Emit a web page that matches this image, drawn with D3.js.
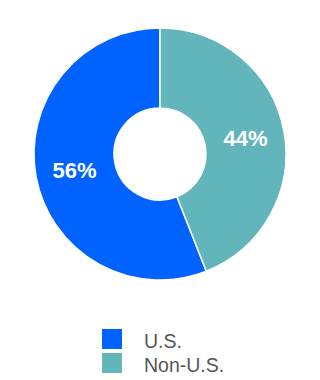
<!DOCTYPE html>
<html>
<head>
<meta charset="utf-8">
<script src="https://cdn.jsdelivr.net/npm/d3@7"></script>
<style>
	body { margin: 0; background: #fff; }
	svg { display: block; font-family: "Liberation Sans", Arial, sans-serif; }
</style>
</head>
<body>
<svg width="320" height="380"></svg>
<script>
const CATEGORIES = ["U.S.", "Non-U.S."];
const VALUES = [56, 44];
const COLORS = ["#0062ff", "#62b5bb"];

const CENTER = { x: 160, y: 154 };
const OUTER_R = 126;
const INNER_R = 46;
const LABEL_R = 87;

const svg = d3.select("svg");
const color = d3.scaleOrdinal().domain(CATEGORIES).range(COLORS);

let data = CATEGORIES.map((c, i) => ({ key: c, value: VALUES[i] }));

// Non-U.S. starts at 12 o'clock and runs clockwise, U.S. fills the rest
let offset = 2 * Math.PI * VALUES[0] / d3.sum(VALUES);
let pie = d3.pie()
	.sort(null)
	.value((d) => d.value)
	.startAngle(-offset)
	.endAngle(2 * Math.PI - offset);

let arc = d3.arc().innerRadius(INNER_R).outerRadius(OUTER_R);
let labelArc = d3.arc().innerRadius(LABEL_R).outerRadius(LABEL_R);

let g = svg.append("g").attr("transform", "translate(" + CENTER.x + "," + CENTER.y + ")");

let slices = g.selectAll("g.slice")
	.data(pie(data))
	.enter().append("g")
	.attr("class", "slice");

slices.append("path")
	.attr("d", arc)
	.attr("fill", (d) => color(d.data.key))
	.attr("stroke", "#fff")
	.attr("stroke-width", 1.5)
	.attr("stroke-linejoin", "round");

slices.append("text")
	.attr("transform", (d) => "translate(" + labelArc.centroid(d) + ")")
	.attr("text-anchor", "middle")
	.attr("dy", "0.36em")
	.attr("fill", "#fff")
	.attr("font-size", 22)
	.attr("font-weight", "bold")
	.text((d) => d.data.value + "%");

// legend
let legend = svg.append("g")
	.attr("transform", "translate(102,329)")
	.selectAll("g")
	.data(CATEGORIES)
	.enter().append("g")
	.attr("transform", (d, i) => "translate(0," + i * 24 + ")");

legend.append("rect")
	.attr("width", 20)
	.attr("height", 20)
	.attr("fill", color);

legend.append("text")
	.attr("x", 42)
	.attr("y", 19)
	.attr("fill", "#555")
	.attr("font-size", 19.5)
	.text((d) => d);
</script>
</body>
</html>
